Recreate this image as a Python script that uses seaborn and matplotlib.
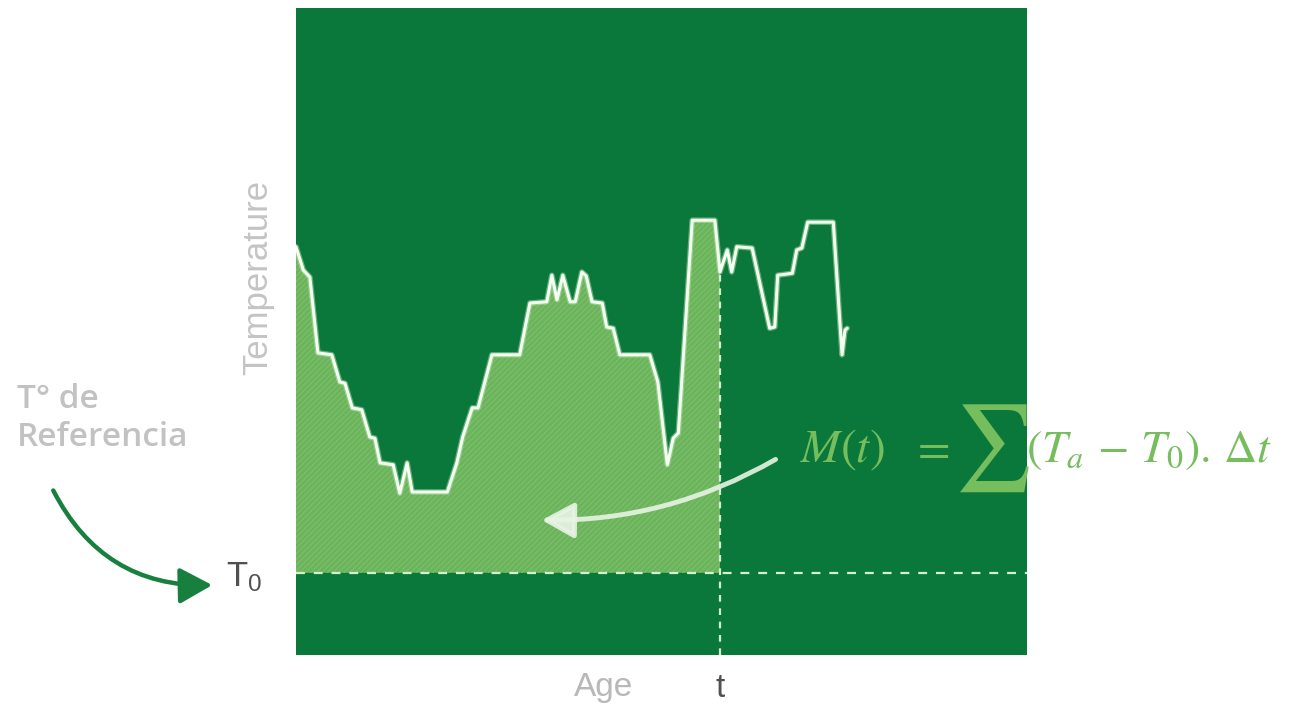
import numpy as np
import pandas as pd
import matplotlib
matplotlib.use("Agg")
import matplotlib.pyplot as plt
import matplotlib.patheffects as pe
from matplotlib.patches import FancyArrowPatch
import seaborn as sns

# ---- data ----
age = [0.0, 1.0, 1.9, 3.0, 4.9, 6.0, 6.7, 7.7, 9.0, 10.1, 10.8, 11.5, 13.3, 14.2,
       15.2, 15.9, 20.7, 22.0, 22.8, 24.1, 24.9, 26.8, 30.6, 32.0, 34.3, 35.0,
       35.7, 36.5, 37.5, 38.2, 39.1, 39.7, 40.5, 41.9, 42.5, 43.4, 44.3, 48.4,
       49.5, 50.8, 51.6, 52.3, 54.2, 57.3, 58.0, 59.0, 59.6, 60.3, 62.4, 64.8,
       65.5, 65.9, 67.9, 68.5, 69.2, 70.0, 73.5, 74.7, 75.1, 75.4]
temperature = [63.1, 59.5, 58.4, 46.7, 46.4, 42.2, 42.0, 38.2, 37.9, 33.7, 33.5,
               29.7, 29.4, 25.0, 29.7, 25.2, 25.2, 29.7, 33.7, 38.2, 38.2, 46.4,
               46.4, 54.4, 54.6, 58.7, 54.9, 58.7, 54.6, 54.6, 59.2, 58.6, 54.6,
               54.4, 50.7, 50.5, 46.4, 46.4, 42.2, 29.4, 33.5, 34.3, 67.2, 67.2,
               59.2, 62.6, 59.2, 63.1, 62.9, 50.5, 50.7, 58.7, 59.0, 62.6, 62.9,
               66.9, 66.9, 46.4, 50.2, 50.5]
t_mark = 58.0
T0 = 12.7
tick_x_labels = ["t"]
tick_y_labels = [r"$\mathregular{T_0}$"]

DARK = "#0b783b"
LIGHT = "#6cb45c"
FORMULA = "#76bd5e"

sns.set_theme(style="white")
plt.rcParams["font.family"] = ["Liberation Sans", "DejaVu Sans"]
plt.rcParams["hatch.color"] = "#7fc270"
plt.rcParams["hatch.linewidth"] = 0.6
plt.rcParams["mathtext.fontset"] = "stix"

fig = plt.figure(figsize=(12.91, 7.07), dpi=100)
ax = fig.add_axes([296 / 1291, 52 / 707, 731 / 1291, 647 / 707])
ax.set_facecolor(DARK)

df = pd.DataFrame({"Age": age, "Temperature": temperature})
sub = df[df["Age"] <= t_mark]
ax.fill_between(sub["Age"], T0, sub["Temperature"], facecolor=LIGHT,
                edgecolor="#7fc270", hatch="//////", linewidth=0, zorder=1)

sns.lineplot(data=df, x="Age", y="Temperature", ax=ax, color="#f4fff2",
             linewidth=2.2, estimator=None, sort=False, zorder=3,
             path_effects=[pe.Stroke(linewidth=4, foreground="#b8e3b0", alpha=0.5), pe.Normal()])

ax.axhline(T0, color="#d2efd0", linestyle=(0, (4, 4)), linewidth=1.6, zorder=2)
T_at_t = float(np.interp(t_mark, age, temperature))
ax.vlines(t_mark, 0, T_at_t, color="#d2efd0", linestyle=(0, (3, 3)), linewidth=1.6, zorder=2)

ax.set_xlim(0, 100)
ax.set_ylim(0, 100)
ax.set_xticks([t_mark], tick_x_labels)
ax.set_yticks([T0], tick_y_labels)
ax.tick_params(axis="x", length=0, labelsize=24, colors="#505050", pad=13)
ax.tick_params(axis="y", length=0, labelsize=25, colors="#505050", pad=24)
for s in ax.spines.values():
    s.set_visible(False)

ax.set_xlabel("Age", fontsize=24, color="#b8b8b8")
ax.xaxis.set_label_coords(0.421, -0.026)
ax.set_ylabel("Temperature", fontsize=25, color="#c4c4c4")
ax.yaxis.set_label_coords(-0.030, 0.583)

fig.text(17 / 1291, 1 - 383 / 707, "T° de\nReferencia", fontsize=24,
         fontweight="semibold", family=["Open Sans", "DejaVu Sans"],
         color="#c2c2c2", ha="left", va="top", linespacing=1.2)

# formula, in pieces (large summation sign)
fig.text(800 / 1291, 1 - 450 / 707, r"$M(t)$", fontsize=34,
         color=FORMULA, ha="left", va="center")
fig.text(930 / 1291, 1 - 450 / 707, r"$=$", fontsize=34,
         color=FORMULA, ha="center", va="center")
fig.text(992 / 1291, 1 - 448 / 707, r"$\sum$", fontsize=62,
         color=FORMULA, ha="center", va="center")
fig.text(1026 / 1291, 1 - 450 / 707, r"$(T_a\,-\,T_0).\,\Delta t$", fontsize=33,
         color=FORMULA, ha="left", va="center")

# green arrow (reference temperature -> T0)
fig.add_artist(FancyArrowPatch((52 / 1291, 1 - 488 / 707), (215 / 1291, 1 - 585 / 707),
                               transform=fig.transFigure, connectionstyle="arc3,rad=0.32",
                               arrowstyle="-|>,head_length=1.0,head_width=0.55",
                               mutation_scale=20, color="#17803f", linewidth=3.2))
# white arrow (formula -> area)
fig.add_artist(FancyArrowPatch((778 / 1291, 1 - 458 / 707), (539 / 1291, 1 - 520 / 707),
                               transform=fig.transFigure, connectionstyle="arc3,rad=-0.14",
                               arrowstyle="-|>,head_length=1.0,head_width=0.55",
                               mutation_scale=20, color="#e8f4e4", linewidth=3.5, alpha=0.9))

fig.savefig("out.png", dpi=100, facecolor="white")
